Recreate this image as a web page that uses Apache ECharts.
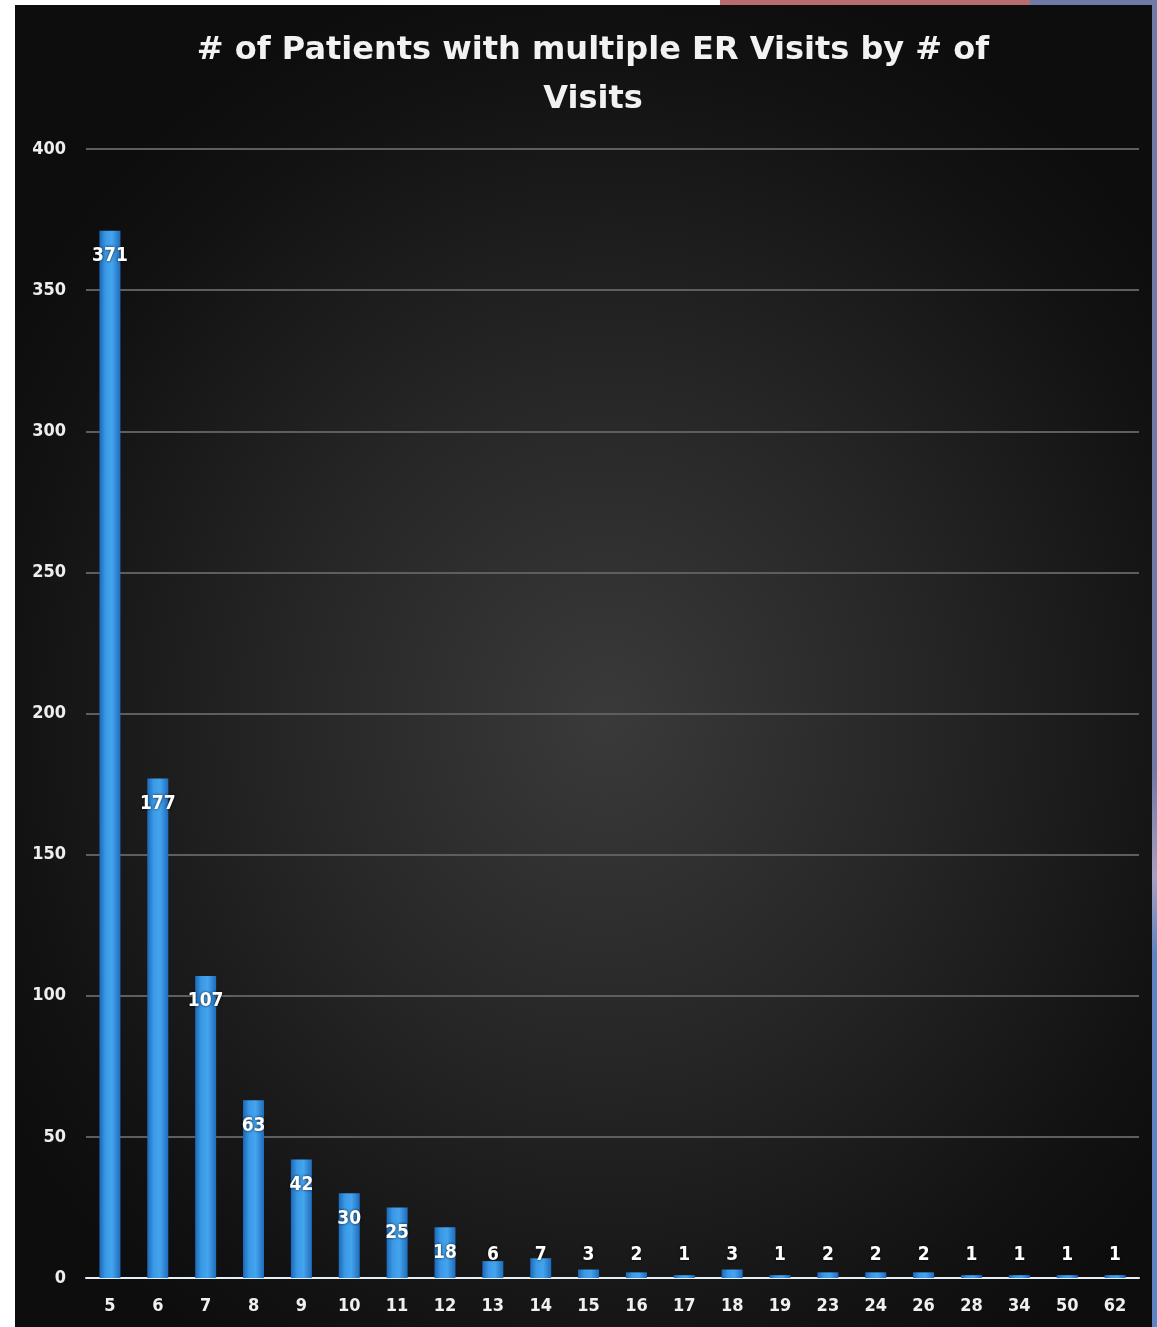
<!DOCTYPE html>
<html><head><meta charset="utf-8">
<script src="https://cdn.jsdelivr.net/npm/echarts@6/dist/echarts.min.js"></script>
<style>
html,body{margin:0;padding:0;background:#fff;}
#wrap{position:relative;width:1157px;height:1327px;overflow:hidden;}
#bg{position:absolute;left:15px;top:5px;width:1137px;height:1322px;
background:radial-gradient(ellipse 62% 58% at 52% 54%, #3a3a3a 0%, #262626 45%, #121212 85%, #0d0d0d 100%);}
#pink{position:absolute;left:720px;top:0;width:310px;height:5px;background:#b86c70;}
#blue{position:absolute;left:1030px;top:0;width:127px;height:5px;background:#6f7aa6;}
#rstrip{position:absolute;left:1152px;top:0;width:5px;height:1327px;
background:linear-gradient(#6f7aa6 0%, #6f7aa6 58%, #a9a0c0 66%, #5b84c4 72%, #5b84c4 100%);}
#chart{position:absolute;left:0;top:0;width:1157px;height:1327px;}
</style></head>
<body>
<div id="wrap"><div id="bg"></div><div id="pink"></div><div id="blue"></div><div id="rstrip"></div><div id="chart"></div></div>
<script>
const titleText = '# of Patients with multiple ER Visits by # of\nVisits';
const categories = ['5','6','7','8','9','10','11','12','13','14','15','16','17','18','19','23','24','26','28','34','50','62'];
const values = [371,177,107,63,42,30,25,18,6,7,3,2,1,3,1,2,2,2,1,1,1,1];
const yTicks = [0,50,100,150,200,250,300,350,400];

const chart = echarts.init(document.getElementById('chart'), null, {renderer:'canvas'});
const barColor = new echarts.graphic.LinearGradient(0,0,1,0,[
  {offset:0,color:'#1d68b8'},{offset:0.3,color:'#3a9ae6'},{offset:0.6,color:'#45a4ee'},{offset:1,color:'#1f6cbd'}]);
const data = values.map(v => ({
  value: v,
  label: v >= 10 ? {position:'insideTop', distance:16} : {position:'insideBottom', distance:13}
}));
const labFont = 'DejaVu Sans Condensed, DejaVu Sans';
chart.setOption({
  backgroundColor:'transparent',
  animation:false,
  title:{
    text:titleText, left:588, top:21, textAlign:'center',
    textStyle:{color:'#f2f2f2', fontFamily:'DejaVu Sans', fontWeight:'bold', fontSize:32, lineHeight:49}
  },
  grid:{left:86, right:18, top:149, bottom:49, containLabel:false},
  xAxis:{
    type:'category', data:categories,
    axisLine:{show:true, lineStyle:{color:'#e6eef6', width:2}},
    axisTick:{show:false},
    axisLabel:{color:'#f0f0f0', fontFamily:labFont, fontWeight:'bold', fontSize:18, margin:19}
  },
  yAxis:{
    type:'value', min:0, max:400, interval:50,
    axisLine:{show:false}, axisTick:{show:false},
    splitLine:{show:true, lineStyle:{color:'#5e5e5e', width:2}},
    axisLabel:{color:'#eeeeee', fontFamily:labFont, fontWeight:'bold', fontSize:18, margin:20,
      formatter: v => yTicks.includes(v) ? String(v) : ''}
  },
  series:[{
    type:'bar', data:data, barWidth:21,
    itemStyle:{color:barColor},
    label:{show:true, color:'#ffffff', fontFamily:labFont, fontWeight:'bold', fontSize:19,
      textShadowColor:'rgba(0,0,0,0.8)', textShadowBlur:3}
  }]
});
</script>
</body></html>
